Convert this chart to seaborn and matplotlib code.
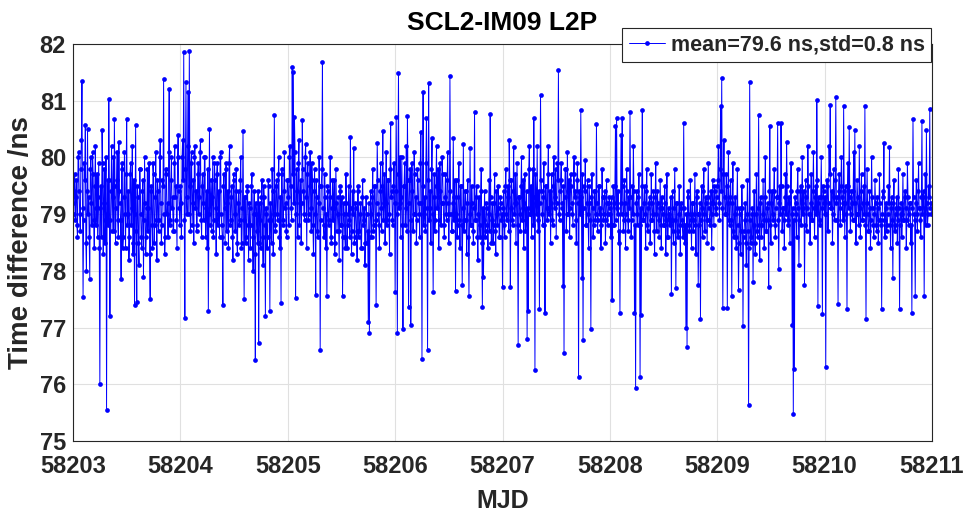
import numpy as np
import pandas as pd
import matplotlib
matplotlib.use("Agg")
import matplotlib.pyplot as plt
import seaborn as sns

# ---- data ----
# Samples every 1/192 day: list "a" holds the even samples, list "b" the odd ones.
start_mjd = 58203
samples_per_day = 192

day0a = [79.2, 79.4, 78.9, 79.6, 78.6, 80.1, 79.0, 79.8, 81.35, 77.54, 79.9, 80.57,
         78.0, 80.5, 79.3, 77.85, 80.0, 78.8, 79.7, 78.4, 80.2, 79.1, 78.6, 79.9,
         76.0, 79.5, 80.48, 78.3, 79.8, 78.9, 75.55, 79.6, 81.03, 77.21, 79.4, 78.7,
         80.0, 80.68, 78.5, 79.6, 78.9, 80.28, 79.2, 77.85, 79.9, 78.6, 80.1, 78.4,
         80.68, 79.0, 78.2, 79.7, 78.8, 80.2, 78.5, 77.4, 80.57, 77.45, 79.3, 78.1,
         79.8, 78.6, 79.4, 77.9, 80.0, 78.3, 79.1, 78.7, 79.9, 77.5, 79.5, 78.4,
         79.7, 78.8, 80.1, 78.2, 79.4, 78.9, 80.3, 78.5, 79.6, 81.39, 78.3, 79.8,
         79.0, 78.6, 81.2, 78.9, 80.0, 79.3, 78.7, 80.2, 79.5, 78.4, 80.4, 79.1]
day0b = [79.0, 79.7, 79.3, 78.8, 80.0, 79.4, 78.7, 80.3, 79.1, 78.9, 79.6, 78.5,
         79.4, 79.0, 78.6, 79.8, 79.2, 80.1, 78.9, 79.5, 78.8, 79.7, 79.3, 78.4,
         79.1, 78.6, 79.9, 79.2, 78.5, 80.0, 79.0, 78.8, 79.6, 78.9, 80.2, 79.3,
         78.7, 79.5, 79.1, 80.1, 78.6, 79.4, 78.9, 79.8, 78.4, 79.3, 79.0, 79.7,
         78.8, 79.4, 78.6, 79.9, 79.1, 78.3, 79.6, 79.0, 78.7, 79.5, 78.5, 79.8,
         79.0, 78.4, 79.6, 78.9, 79.2, 78.6, 79.8, 79.1, 78.3, 79.4, 78.8, 79.9,
         78.5, 79.3, 78.9, 79.6, 78.7, 80.0, 79.2, 78.8, 79.5, 79.0, 78.6, 79.7,
         79.2, 80.1, 78.8, 79.6, 79.1, 78.7, 79.9, 79.3, 78.9, 80.0, 79.4, 78.8]
day1a = [79.5, 78.6, 80.3, 81.86, 77.17, 81.33, 79.0, 81.15, 81.88, 78.7, 80.1, 79.2,
         78.5, 80.2, 79.4, 78.8, 79.9, 79.3, 80.3, 78.6, 79.7, 78.9, 80.0, 79.1,
         78.4, 77.3, 80.5, 79.2, 78.7, 80.0, 78.9, 79.6, 78.3, 79.9, 79.0, 78.6,
         80.1, 78.8, 77.4, 79.7, 78.5, 79.9, 79.2, 78.4, 80.2, 78.9, 79.5, 78.2,
         79.6, 78.7, 79.8, 78.3, 79.4, 78.9, 80.0, 78.5, 80.47, 77.5, 79.3, 78.6,
         79.5, 78.2, 79.1, 78.8, 79.7, 78.0, 79.4, 76.43, 79.0, 78.5, 76.72, 79.2,
         78.4, 79.6, 78.1, 79.3, 77.2, 79.0, 78.6, 79.5, 77.3, 78.9, 79.8, 78.3,
         80.75, 78.7, 79.6, 78.9, 80.0, 78.4, 77.43, 79.7, 78.8, 80.1, 79.2, 78.6]
day1b = [79.2, 80.0, 79.6, 78.9, 79.8, 79.3, 80.2, 79.0, 79.5, 79.9, 78.8, 79.6,
         80.0, 79.1, 78.7, 79.7, 79.0, 80.1, 78.9, 79.5, 79.2, 80.0, 78.6, 79.4,
         79.8, 79.0, 78.8, 79.6, 79.3, 78.6, 79.9, 79.1, 79.7, 78.8, 79.4, 80.0,
         79.0, 78.6, 79.5, 79.1, 79.8, 78.7, 79.4, 79.9, 78.8, 79.3, 78.6, 79.7,
         79.0, 79.4, 78.5, 79.2, 78.8, 79.6, 78.4, 79.1, 78.9, 79.3, 78.5, 79.4,
         78.8, 79.2, 78.4, 79.5, 78.6, 79.0, 78.3, 79.2, 78.7, 79.4, 78.5, 78.9,
         79.3, 78.6, 79.5, 78.8, 79.1, 78.4, 79.6, 78.9, 79.2, 78.5, 79.4, 79.0,
         78.8, 79.5, 79.0, 79.7, 78.6, 79.3, 79.8, 78.9, 79.4, 79.1, 78.7, 79.6]
day2a = [79.6, 78.8, 80.2, 79.1, 81.6, 81.5, 80.71, 77.52, 79.8, 78.6, 80.3, 79.2,
         78.5, 80.66, 79.4, 78.9, 80.24, 78.4, 79.9, 79.0, 80.1, 78.7, 79.6, 78.3,
         79.8, 77.57, 79.3, 78.6, 80.0, 76.6, 79.5, 81.68, 78.8, 79.7, 78.4, 77.56,
         79.4, 78.9, 80.0, 78.5, 79.6, 79.1, 78.3, 79.8, 78.7, 79.3, 78.2, 79.5,
         78.8, 77.56, 79.2, 78.6, 79.7, 78.4, 79.0, 78.9, 80.36, 78.3, 79.4, 80.17,
         78.6, 79.1, 78.2, 79.5, 78.7, 79.2, 78.4, 79.6, 78.9, 78.1, 79.3, 78.5,
         77.09, 76.9, 79.4, 78.6, 79.8, 78.8, 79.5, 77.39, 80.25, 79.0, 78.4, 79.9,
         78.7, 80.47, 79.2, 78.5, 80.1, 78.9, 79.6, 78.3, 80.6, 79.4, 78.8, 79.9]
day2b = [79.3, 80.0, 79.5, 78.9, 79.7, 79.2, 80.1, 79.0, 79.4, 79.9, 78.8, 79.6,
         79.2, 79.8, 79.0, 80.0, 79.3, 79.7, 78.9, 79.5, 79.1, 79.9, 78.8, 79.4,
         79.0, 79.6, 78.7, 79.2, 79.5, 78.9, 79.8, 79.1, 78.6, 79.3, 79.0, 79.5,
         78.8, 79.3, 78.6, 79.1, 78.9, 79.6, 78.5, 79.2, 79.0, 78.7, 79.4, 78.8,
         79.3, 78.6, 79.0, 78.4, 79.2, 78.8, 79.5, 78.6, 79.1, 78.7, 79.0, 78.5,
         79.2, 78.7, 79.4, 78.6, 79.0, 78.4, 79.3, 78.8, 79.1, 78.5, 79.0, 78.7,
         79.2, 78.6, 79.0, 79.3, 78.7, 79.5, 78.9, 79.2, 79.6, 78.8, 79.4, 79.1,
         79.5, 78.9, 79.7, 79.2, 78.8, 79.6, 79.0, 79.8, 79.3, 78.9, 79.5, 79.2]
day3a = [77.63, 80.71, 76.9, 81.49, 79.2, 78.6, 80.0, 76.97, 79.5, 78.8, 80.2, 80.73,
         77.37, 79.6, 77.05, 79.9, 78.7, 80.1, 79.0, 78.5, 79.8, 79.2, 78.6, 80.45,
         76.45, 81.16, 79.0, 78.7, 80.7, 76.6, 81.32, 79.1, 78.5, 80.35, 77.63, 79.7,
         78.9, 80.2, 79.3, 78.4, 79.9, 78.8, 80.0, 79.2, 78.6, 79.7, 78.9, 80.1,
         78.5, 81.43, 79.0, 78.7, 80.35, 79.3, 77.65, 79.6, 78.8, 79.9, 78.4, 79.5,
         77.75, 80.24, 78.9, 79.4, 78.3, 79.6, 77.56, 80.17, 78.8, 79.2, 78.5, 80.8,
         78.9, 79.5, 78.2, 79.3, 78.6, 79.8, 77.36, 77.9, 79.4, 78.7, 79.1, 78.4,
         79.6, 80.77, 78.5, 79.2, 78.8, 79.7, 78.3, 79.0, 79.5, 78.6, 79.3, 78.9]
day3b = [79.4, 79.0, 79.7, 79.1, 80.0, 79.3, 78.8, 79.5, 79.9, 79.1, 78.7, 79.6,
         79.2, 79.8, 78.9, 79.4, 79.0, 79.7, 79.3, 78.9, 79.6, 79.0, 79.9, 79.2,
         79.5, 78.8, 79.3, 79.9, 79.1, 79.6, 78.9, 79.4, 79.8, 79.0, 79.3, 78.7,
         79.5, 79.1, 79.8, 78.9, 79.4, 79.2, 79.7, 78.8, 79.3, 79.0, 79.6, 79.2,
         79.0, 79.4, 78.7, 79.2, 78.9, 79.6, 79.0, 78.6, 79.3, 78.9, 79.5, 78.8,
         79.1, 78.7, 79.4, 78.9, 79.2, 78.6, 79.0, 78.8, 79.5, 78.7, 79.1, 78.9,
         79.3, 78.6, 79.0, 78.8, 79.4, 78.5, 79.1, 78.9, 78.6, 79.2, 78.8, 79.0,
         78.7, 79.3, 78.9, 78.5, 79.2, 78.7, 79.4, 78.8, 79.1, 78.6, 79.2, 79.0]
day4a = [77.72, 79.4, 78.6, 79.8, 78.9, 79.5, 80.31, 77.72, 79.6, 78.8, 80.18, 79.2,
         78.5, 79.9, 76.7, 79.3, 78.7, 80.0, 79.1, 78.4, 79.7, 78.9, 76.8, 77.29,
         80.2, 79.0, 78.6, 79.8, 80.7, 76.25, 79.3, 80.2, 78.7, 77.32, 81.1, 79.4,
         78.8, 79.9, 77.25, 79.5, 78.9, 80.2, 79.1, 78.5, 79.7, 78.8, 80.0, 79.3,
         78.6, 79.9, 81.54, 78.9, 79.6, 79.2, 77.73, 76.56, 79.8, 78.7, 80.1, 79.0,
         78.6, 79.7, 79.2, 78.8, 80.0, 79.4, 78.5, 79.9, 76.13, 79.3, 80.83, 77.87,
         76.78, 79.5, 79.96, 78.8, 79.6, 78.4, 79.2, 76.98, 79.7, 78.6, 79.4, 78.9,
         80.59, 78.7, 79.5, 79.0, 78.4, 79.8, 78.9, 79.3, 78.5, 79.6, 78.8, 79.2]
day4b = [79.1, 78.8, 79.5, 79.0, 79.3, 78.7, 79.6, 79.1, 78.9, 79.4, 79.0, 79.7,
         79.2, 78.8, 79.3, 79.0, 79.5, 78.9, 79.6, 79.2, 78.7, 79.4, 79.1, 79.8,
         79.0, 79.5, 79.2, 78.8, 79.3, 79.7, 79.0, 78.9, 79.4, 79.2, 79.6, 79.0,
         79.3, 78.8, 79.5, 79.1, 79.7, 79.0, 79.4, 79.2, 78.9, 79.5, 79.1, 79.8,
         79.2, 79.6, 79.0, 79.4, 79.9, 79.1, 79.5, 79.3, 79.8, 79.0, 79.4, 79.6,
         79.1, 79.5, 79.0, 79.7, 79.3, 78.9, 79.6, 79.2, 79.4, 79.0, 79.3, 79.7,
         79.1, 79.4, 78.8, 79.2, 79.0, 79.5, 78.9, 79.3, 79.1, 78.8, 79.4, 79.0,
         79.2, 78.9, 79.5, 79.1, 78.8, 79.3, 79.0, 79.4, 78.9, 79.2, 79.0, 79.3]
day5a = [79.1, 78.6, 77.49, 79.5, 78.8, 80.56, 80.7, 79.0, 78.5, 77.26, 80.4, 80.7,
         78.7, 79.6, 78.4, 79.8, 78.9, 79.3, 80.8, 78.6, 79.5, 80.2, 77.25, 75.94,
         79.4, 78.8, 79.7, 76.13, 77.22, 80.83, 78.9, 79.5, 78.4, 79.8, 78.7, 79.2,
         78.5, 79.7, 78.9, 79.4, 78.3, 79.9, 78.7, 79.2, 78.6, 79.6, 78.4, 79.1,
         78.8, 79.5, 78.3, 79.7, 78.6, 79.0, 78.9, 77.6, 79.4, 78.5, 79.8, 77.7,
         79.2, 78.6, 79.5, 78.3, 79.1, 78.8, 80.6, 78.5, 77.0, 76.66, 79.4, 78.7,
         79.6, 78.4, 79.2, 78.9, 79.7, 78.3, 79.4, 77.75, 79.0, 77.15, 79.5, 78.6,
         79.8, 78.7, 79.3, 78.5, 79.9, 78.9, 79.2, 78.4, 79.6, 78.8, 79.4, 79.0]
day5b = [79.0, 79.3, 78.8, 79.2, 79.5, 78.9, 79.1, 79.4, 78.7, 79.2, 79.0, 79.5,
         78.9, 79.2, 79.0, 79.4, 78.7, 79.1, 79.3, 78.9, 79.0, 79.4, 78.8, 79.2,
         79.0, 79.3, 78.8, 79.1, 79.5, 78.9, 79.2, 79.0, 79.4, 78.8, 79.1, 79.3,
         78.9, 79.2, 79.0, 78.7, 79.3, 79.0, 79.4, 78.9, 79.1, 78.8, 79.3, 79.0,
         78.8, 79.2, 78.9, 78.6, 79.1, 78.8, 79.3, 78.9, 78.7, 79.1, 78.9, 79.2,
         78.7, 79.0, 78.8, 79.2, 78.9, 78.6, 79.1, 78.8, 79.0, 79.3, 78.8, 79.0,
         78.9, 79.2, 78.7, 79.0, 78.8, 79.3, 79.0, 78.8, 79.2, 78.9, 79.1, 79.4,
         79.0, 79.2, 78.9, 79.3, 79.1, 78.8, 79.4, 79.0, 79.2, 79.5, 79.1, 79.3]
day6a = [79.5, 80.2, 78.9, 80.9, 81.4, 77.35, 80.3, 79.0, 79.7, 77.35, 80.1, 78.8,
         79.6, 77.56, 79.9, 78.6, 79.3, 78.4, 79.8, 77.66, 79.1, 78.3, 79.5, 77.03,
         78.7, 79.2, 78.1, 79.6, 75.63, 81.33, 78.5, 79.0, 77.8, 79.4, 78.3, 79.7,
         78.6, 80.75, 78.2, 79.3, 78.8, 79.6, 78.4, 80.0, 78.7, 79.2, 77.72, 80.56,
         78.5, 79.4, 78.9, 79.8, 78.6, 79.3, 80.6, 78.03, 79.5, 80.6, 78.7, 79.1,
         78.4, 79.7, 80.27, 78.9, 79.3, 78.5, 79.9, 77.05, 75.47, 76.27, 79.2, 78.6,
         79.8, 78.1, 79.4, 78.8, 80.0, 79.1, 77.75, 79.6, 78.7, 80.2, 79.0, 78.5,
         79.7, 78.9, 80.1, 78.6, 79.5, 81.01, 77.38, 79.3, 78.8, 80.0, 77.24, 79.4]
day6b = [79.6, 79.2, 79.8, 79.4, 79.1, 79.7, 79.3, 79.0, 79.5, 79.2, 78.9, 79.3,
         78.9, 79.2, 78.7, 79.0, 78.6, 79.1, 78.8, 78.5, 79.0, 78.7, 79.1, 78.6,
         78.9, 78.5, 79.0, 78.7, 78.4, 78.9, 78.6, 79.1, 78.8, 78.5, 79.0, 78.7,
         79.1, 78.8, 79.2, 78.6, 79.0, 78.9, 79.3, 78.7, 79.1, 78.9, 79.4, 78.8,
         79.2, 79.0, 79.4, 78.8, 79.1, 79.3, 78.9, 79.2, 79.0, 79.5, 79.1, 78.9,
         79.3, 79.0, 79.5, 78.8, 79.2, 79.4, 79.0, 79.1, 78.9, 79.3, 79.0, 79.4,
         79.1, 78.9, 79.5, 79.2, 79.0, 79.4, 78.8, 79.3, 79.1, 79.5, 79.0, 79.2,
         78.9, 79.4, 79.1, 79.3, 79.0, 79.6, 79.2, 78.9, 79.3, 79.1, 79.5, 79.2]
day7a = [79.0, 76.3, 79.6, 78.7, 80.2, 80.93, 79.1, 78.5, 79.8, 78.9, 81.06, 79.3,
         77.42, 79.7, 78.8, 80.0, 79.2, 80.9, 78.6, 79.5, 77.33, 79.9, 80.53, 78.7,
         79.4, 78.9, 80.1, 80.49, 78.5, 79.6, 79.0, 80.2, 78.6, 79.7, 78.9, 79.5,
         80.9, 77.15, 79.8, 78.7, 79.4, 78.4, 80.0, 79.1, 78.6, 79.6, 78.8, 79.3,
         78.5, 79.7, 78.9, 77.33, 79.4, 80.26, 78.6, 79.2, 78.8, 79.5, 80.19, 78.4,
         79.3, 77.88, 79.6, 78.7, 79.1, 78.5, 79.8, 77.33, 79.0, 78.6, 79.7, 78.9,
         79.4, 78.4, 79.9, 78.8, 79.2, 78.5, 77.25, 80.68, 79.0, 77.56, 79.6, 78.7,
         79.9, 79.1, 78.6, 80.64, 79.3, 77.56, 79.7, 80.48, 78.8, 79.5, 80.85, 79.2]
day7b = [79.3, 79.0, 79.5, 79.2, 79.7, 79.1, 79.4, 79.0, 79.3, 79.6, 79.2, 78.9,
         79.4, 79.1, 79.5, 79.3, 78.9, 79.4, 79.2, 79.0, 79.5, 79.1, 79.3, 79.0,
         79.2, 79.4, 78.9, 79.2, 79.0, 79.3, 78.8, 79.1, 79.4, 78.9, 79.2, 79.0,
         78.8, 79.2, 79.0, 78.7, 79.1, 78.9, 79.3, 78.8, 79.0, 79.2, 78.7, 79.1,
         78.9, 79.2, 78.8, 79.0, 79.3, 78.9, 79.1, 78.7, 79.0, 79.2, 78.8, 79.1,
         78.9, 79.2, 78.8, 79.0, 79.3, 78.9, 79.1, 78.8, 79.2, 79.0, 78.9, 79.3,
         79.1, 78.9, 79.3, 79.0, 79.2, 78.8, 79.1, 79.3, 78.9, 79.2, 79.0, 79.4,
         79.1, 78.9, 79.3, 79.0, 79.4, 79.1, 78.8, 79.2, 79.0, 79.3, 79.1, 79.0]

x_ticks = [58203, 58204, 58205, 58206, 58207, 58208, 58209, 58210, 58211]
y_ticks = [75, 76, 77, 78, 79, 80, 81, 82]
title_text = "SCL2-IM09 L2P"
legend_text = "mean=79.6 ns,std=0.8 ns"
x_label = "MJD"
y_label = "Time difference /ns"

even = day0a + day1a + day2a + day3a + day4a + day5a + day6a + day7a
odd = day0b + day1b + day2b + day3b + day4b + day5b + day6b + day7b
values = np.column_stack([even, odd]).ravel()
mjd = start_mjd + np.arange(len(values)) / samples_per_day
df = pd.DataFrame({"MJD": mjd, "TD": values})

# ---- plot ----
sns.set_style("white")
plt.rcParams['font.family'] = ['Liberation Sans', 'DejaVu Sans']

fig = plt.figure(figsize=(9.67, 5.12), dpi=100)
ax = fig.add_axes([73/967, 71/512, 859/967, 397/512])

sns.lineplot(data=df, x="MJD", y="TD", ax=ax, estimator=None, sort=False,
             color="#0000ff", linewidth=0.7, marker="o", markersize=3.4,
             markeredgewidth=0, markerfacecolor="#0000ff", label=legend_text)

ax.set_xlim(58203, 58211)
ax.set_ylim(75, 82)
ax.set_xticks(x_ticks)
ax.set_yticks(y_ticks)
ax.set_xticklabels([str(v) for v in x_ticks])
ax.set_yticklabels([str(v) for v in y_ticks])
ax.grid(True, color="#e0e0e0", linewidth=0.8)
ax.set_axisbelow(True)
for s in ax.spines.values():
    s.set_visible(True)
    s.set_color("#262626")
    s.set_linewidth(0.8)
ax.tick_params(direction="in", length=4, width=0.8, colors="#262626",
               labelcolor="#262626", labelsize=17)
ax.tick_params(axis="x", pad=10)
ax.tick_params(axis="y", pad=5)
for lab in ax.get_xticklabels() + ax.get_yticklabels():
    lab.set_fontweight("bold")

ax.set_xlabel(x_label, fontsize=18, fontweight="bold", color="#262626", labelpad=8)
ax.set_ylabel(y_label, fontsize=20, fontweight="bold", color="#262626", labelpad=4)
ax.set_title(title_text, fontsize=19, fontweight="bold", color="black", pad=10)

leg = ax.legend(loc="upper right", bbox_to_anchor=(931/967, 1 - 28/512),
                bbox_transform=fig.transFigure, frameon=True, fancybox=False,
                handlelength=1.7, handletextpad=0.25, borderpad=0.3,
                borderaxespad=0, prop={"weight": "bold", "size": 15.5})
leg.get_frame().set_edgecolor("#262626")
leg.get_frame().set_linewidth(0.8)
leg.get_frame().set_alpha(1)

fig.savefig("out.png", dpi=100)
